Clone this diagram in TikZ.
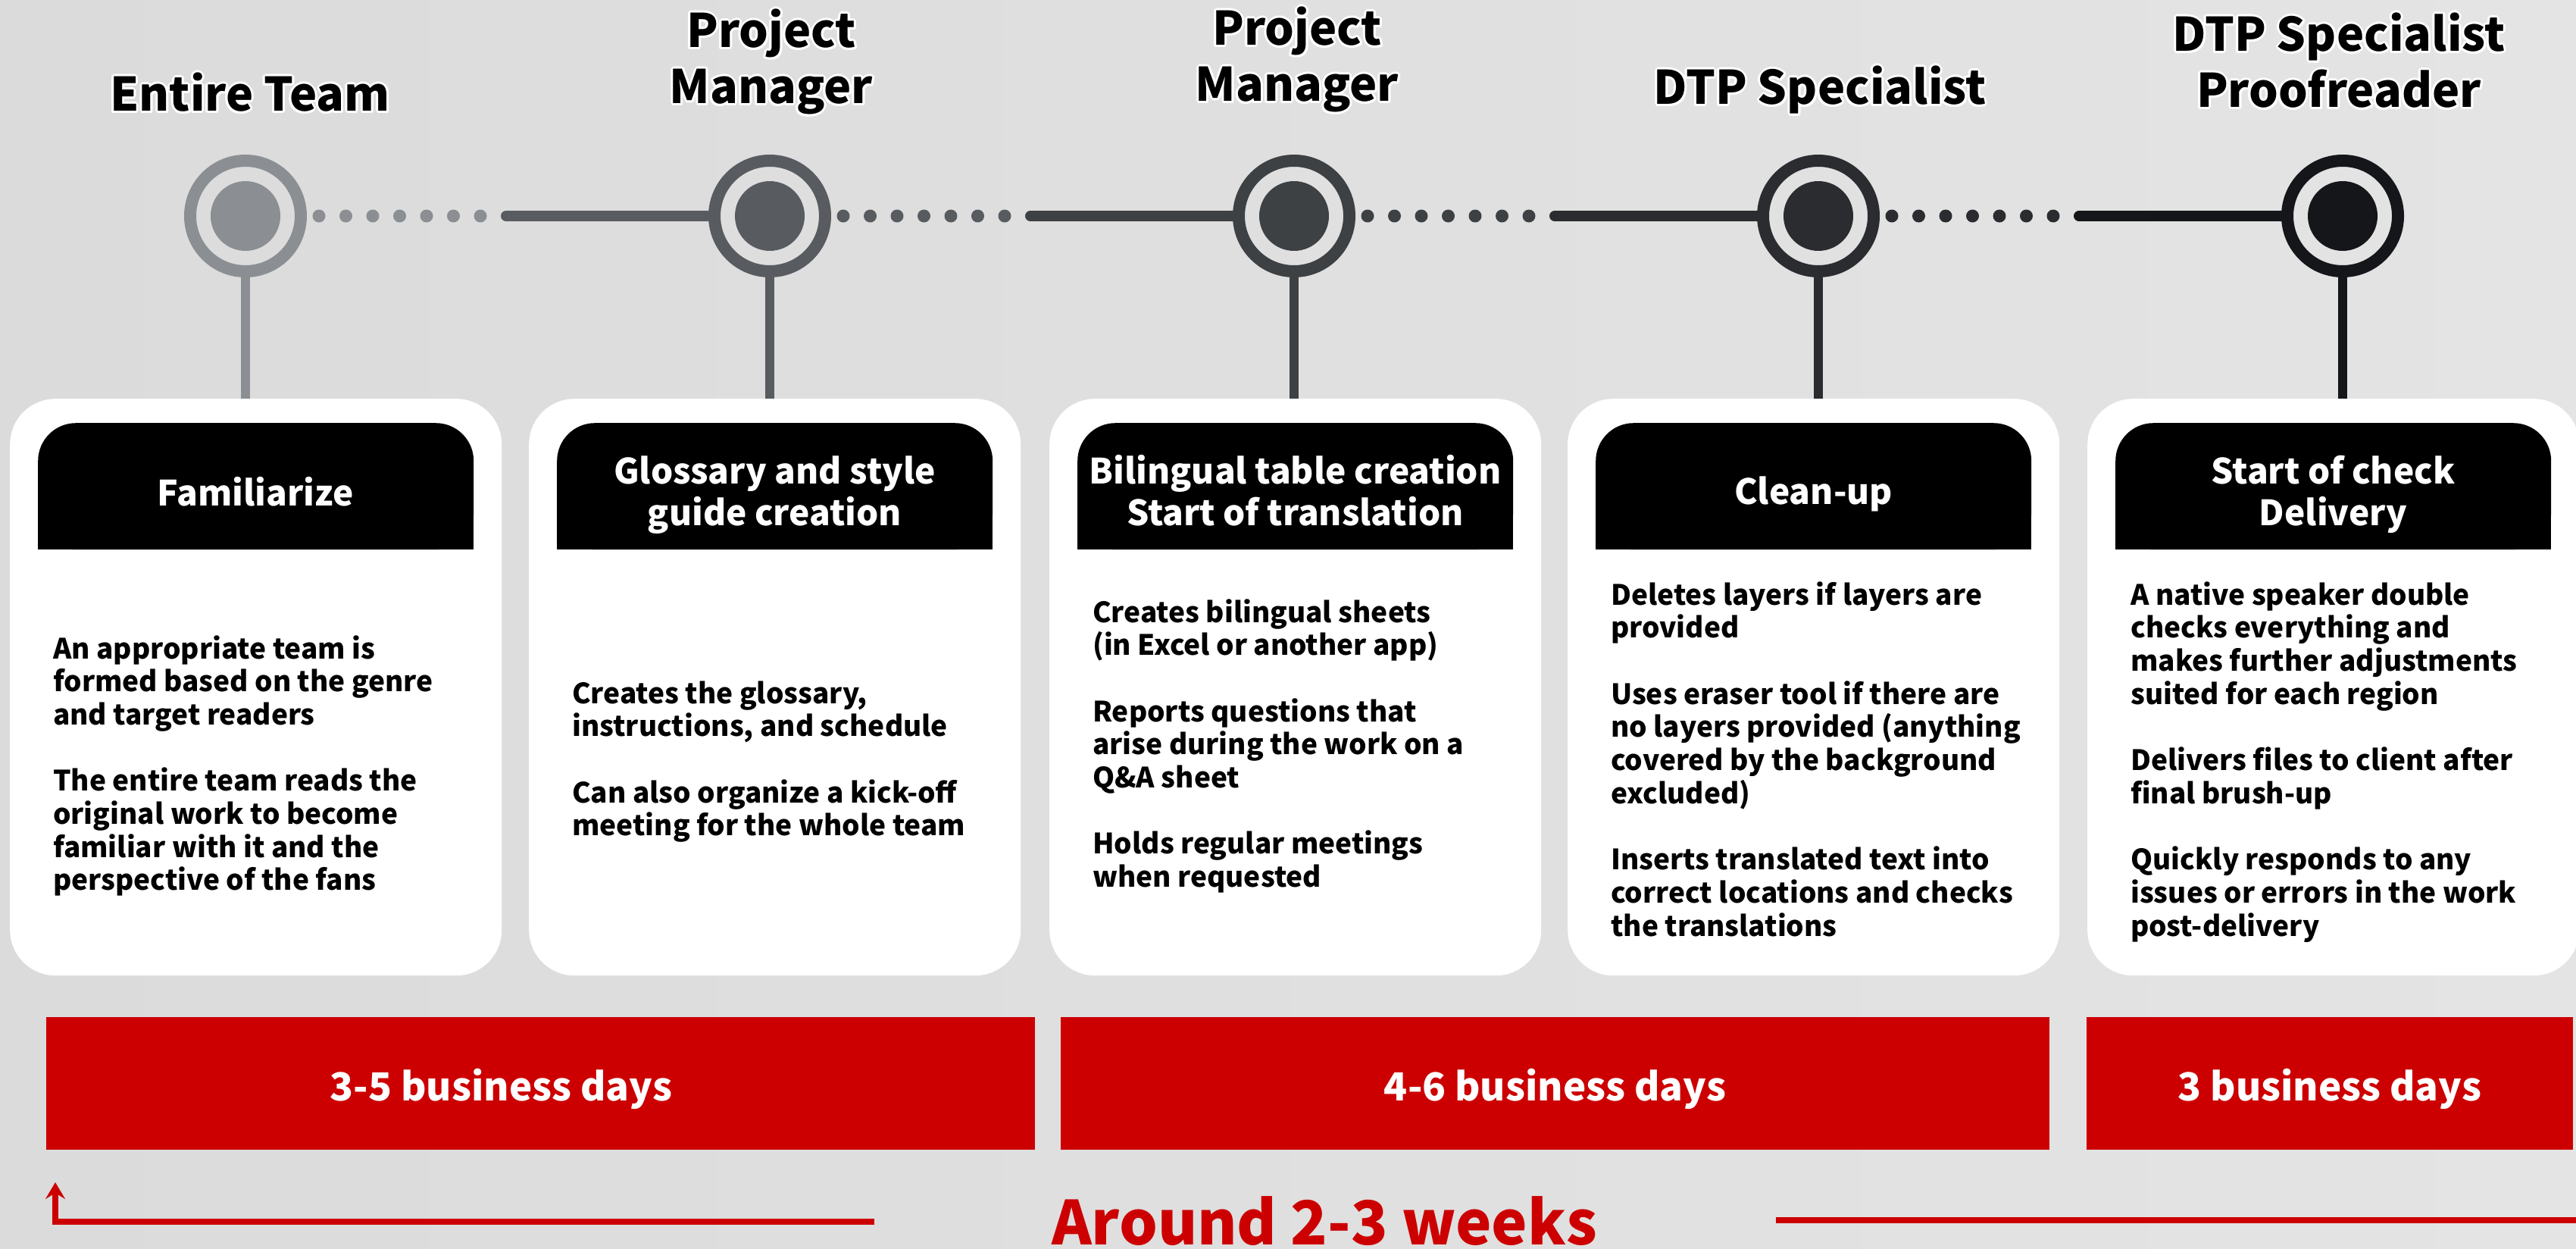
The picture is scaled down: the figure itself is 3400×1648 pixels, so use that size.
\documentclass[tikz,border=0pt]{standalone}
\usepackage{fontspec}
\setmainfont{Noto Sans CJK JP}
\usetikzlibrary{arrows.meta}

\definecolor{bgL}{HTML}{DBDBDB}
\definecolor{bgR}{HTML}{E4E4E4}
\definecolor{tone1}{HTML}{8B8E92}
\definecolor{tone2}{HTML}{585B5F}
\definecolor{tone3}{HTML}{3E4144}
\definecolor{tone4}{HTML}{2A2C2F}
\definecolor{tone5}{HTML}{141619}
\definecolor{brandred}{HTML}{CC0000}

\newcommand\bodyfont{\fontsize{37}{43.7}\selectfont\bfseries}
\newcommand\headfont{\fontsize{46}{55}\selectfont\bfseries}
\newcommand\titlefont{\fontsize{61}{74}\selectfont\bfseries}
\newcommand\barfont{\fontsize{51}{58}\selectfont\bfseries}

% role title with a thin white halo; #1 name, #2 x, #3 first baseline, #4 text
\newcommand\roletitle[4]{%
  \foreach \a in {0,30,...,330}
    \node[titletext, text=white, shift={(\a:3pt)}] at (#2,#3) {\parbox[t]{800pt}{\centering #4}};
  \node[titletext] (#1) at (#2,#3) {\parbox[t]{800pt}{\centering #4}};
}
% one step card; #1 index, #2 left x, #3 tone, #4 header baseline, #5 header, #6 body baseline, #7 body
\newcommand\stepcard[7]{%
  \node[cardbox, anchor=north west] (k#1) at (#2,526) {};
  \node[headbox, anchor=north west] (h#1) at (#2+37,558) {};
  \fill[black] (h#1.west) rectangle (h#1.south east);
  \node[headtext] (ht#1) at (#2+324.5,#4) {\parbox[t]{575pt}{\centering #5}};
  \node[bodytext] (bt#1) at (#2+57,#6) {\parbox[t]{585pt}{\raggedright #7}};
}

\begin{document}
\begin{tikzpicture}[x=1pt, y=-1pt,
  ring/.style={circle, draw, line width=16pt, minimum size=146pt, inner sep=0pt},
  stem/.style={line width=12pt},
  dotline/.style={line width=17pt, line cap=round, dash pattern=on 0pt off 35.5pt},
  linkline/.style={line width=14pt, line cap=round},
  cardbox/.style={fill=white, rounded corners=60pt, minimum width=649pt, minimum height=761pt, inner sep=0pt},
  headbox/.style={fill=black, rounded corners=50pt, minimum width=575pt, minimum height=167pt, inner sep=0pt},
  headtext/.style={anchor=base, inner sep=0pt, text=white, font=\headfont},
  bodytext/.style={anchor=base west, inner sep=0pt, text=black, font=\bodyfont},
  titletext/.style={anchor=base, inner sep=0pt, text=black, font=\titlefont},
  bar/.style={fill=brandred, inner sep=0pt, minimum height=175pt, anchor=north west},
  bartext/.style={anchor=base, inner sep=0pt, text=white, font=\barfont},
  spanline/.style={draw=brandred, line width=8pt}
]
\useasboundingbox (0,0) rectangle (3400,1648);
\clip (0,0) rectangle (3400,1648);
\shade[left color=bgL, right color=bgR] (0,0) rectangle (3400,1648);

% milestones
\node[ring, draw=tone1] (m1) at (324,285) {};
\node[ring, draw=tone2] (m2) at (1016,285) {};
\node[ring, draw=tone3] (m3) at (1708,285) {};
\node[ring, draw=tone4] (m4) at (2400,285) {};
\node[ring, draw=tone5] (m5) at (3092,285) {};
\fill[tone1] (m1) circle (46);
\fill[tone2] (m2) circle (46);
\fill[tone3] (m3) circle (46);
\fill[tone4] (m4) circle (46);
\fill[tone5] (m5) circle (46);

% links between milestones: dotted lead-out, then solid lead-in
\draw[dotline, tone1] ([xshift=97pt]m1.center) -- ([xshift=312pt]m1.center);
\draw[linkline, tone2] ([xshift=344pt]m1.center) -- (m2.west);
\draw[dotline, tone2] ([xshift=97pt]m2.center) -- ([xshift=312pt]m2.center);
\draw[linkline, tone3] ([xshift=344pt]m2.center) -- (m3.west);
\draw[dotline, tone3] ([xshift=97pt]m3.center) -- ([xshift=312pt]m3.center);
\draw[linkline, tone4] ([xshift=344pt]m3.center) -- (m4.west);
\draw[dotline, tone4] ([xshift=97pt]m4.center) -- ([xshift=312pt]m4.center);
\draw[linkline, tone5] ([xshift=344pt]m4.center) -- (m5.west);

% cards
\stepcard{1}{13}{tone1}{667}{Familiarize}{869}{An appropriate team is\\ formed based on the genre\\ and target readers\\[43.7pt] The entire team reads the\\ original work to become\\ familiar with it and the\\ perspective of the fans}
\stepcard{2}{698}{tone2}{638}{Glossary and style\\ guide creation}{928}{Creates the glossary,\\ instructions, and schedule\\[43.7pt] Can also organize a kick-off\\ meeting for the whole team}
\stepcard{3}{1385}{tone3}{638}{Bilingual table creation\\ Start of translation}{821}{Creates bilingual sheets\\ (in Excel or another app)\\[43.7pt] Reports questions that\\ arise during the work on a\\ Q\&A sheet\\[43.7pt] Holds regular meetings\\ when requested}
\stepcard{4}{2069}{tone4}{665}{Clean-up}{798}{Deletes layers if layers are\\ provided\\[43.7pt] Uses eraser tool if there are\\ no layers provided (anything\\ covered by the background\\ excluded)\\[43.7pt] Inserts translated text into\\ correct locations and checks\\ the translations}
\stepcard{5}{2755}{tone5}{638}{Start of check\\ Delivery}{798}{A native speaker double\\ checks everything and\\ makes further adjustments\\ suited for each region\\[43.7pt] Delivers files to client after\\ final brush-up\\[43.7pt] Quickly responds to any\\ issues or errors in the work\\ post-delivery}

% stems from milestones to cards
\draw[stem, tone1] (m1.south) -- (k1.north -| m1);
\draw[stem, tone2] (m2.south) -- (k2.north -| m2);
\draw[stem, tone3] (m3.south) -- (k3.north -| m3);
\draw[stem, tone4] (m4.south) -- (k4.north -| m4);
\draw[stem, tone5] (m5.south) -- (k5.north -| m5);

% roles
\roletitle{r1}{330}{147}{Entire Team}
\roletitle{r2}{1018}{63}{Project\\ Manager}
\roletitle{r3}{1712}{60}{Project\\ Manager}
\roletitle{r4}{2402}{138}{DTP Specialist}
\roletitle{r5}{3087}{68}{DTP Specialist\\ Proofreader}

% durations
\node[bar, minimum width=1305pt] (b1) at (61,1342) {};
\node[bar, minimum width=1305pt] (b2) at (1400,1342) {};
\node[bar, minimum width=642pt] (b3) at (2754,1342) {};
\node[bartext] (d1) at ([xshift=-52pt, yshift=-22.5pt]b1.center) {3-5 business days};
\node[bartext] (d2) at ([yshift=-22.5pt]b2.center) {4-6 business days};
\node[bartext] (d3) at ([yshift=-22.5pt]b3.center) {3 business days};

% overall span
\node[anchor=base, inner sep=0pt, text=brandred, font=\fontsize{80}{88}\selectfont\bfseries] (total) at (1748,1642) {Around 2-3 weeks};
\coordinate (spanL) at (1154,1612);
\coordinate (spanC) at (73,1612);
\coordinate (spanT) at (73,1560);
\coordinate (spanR1) at (2344,1610);
\coordinate (spanR2) at (3400,1610);
\draw[spanline, -{Stealth[length=22pt, width=26pt, inset=8pt]}] (spanL) -- (spanC) -- (spanT);
\draw[spanline] (spanR1) -- (spanR2);
\end{tikzpicture}
\end{document}
